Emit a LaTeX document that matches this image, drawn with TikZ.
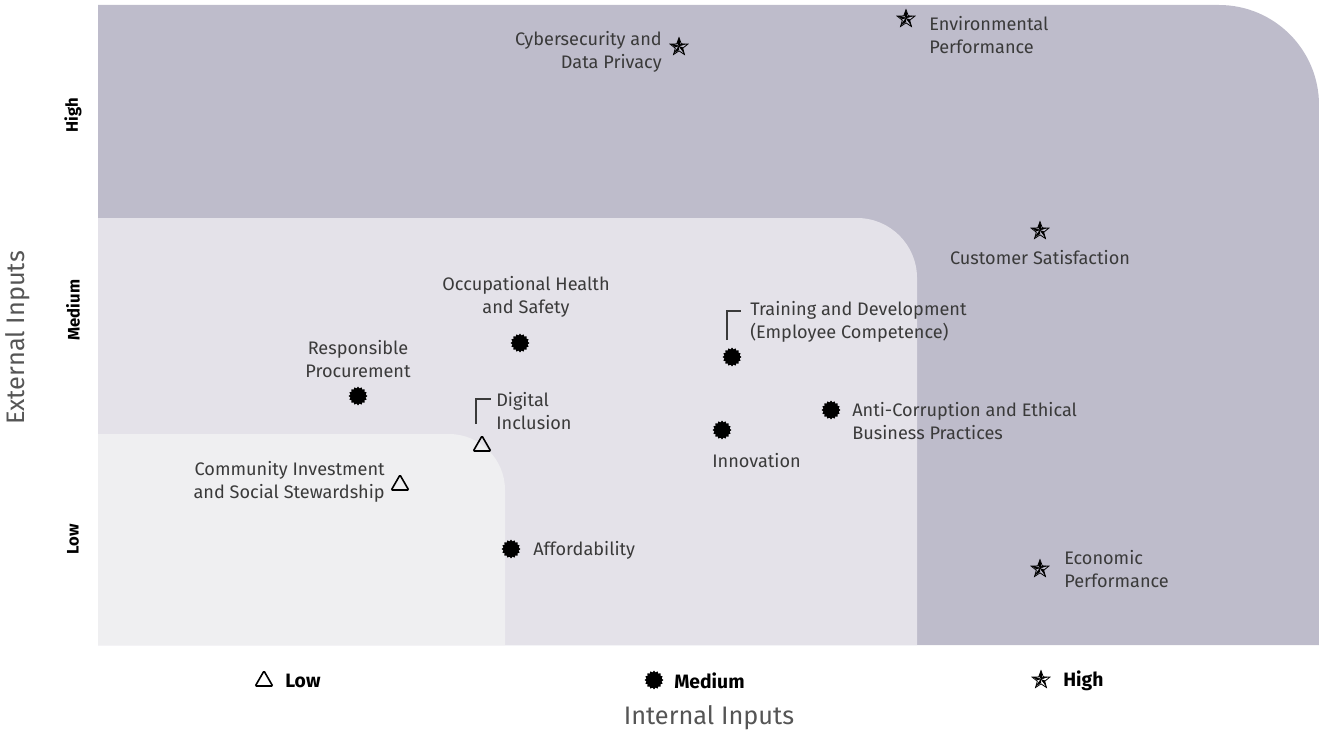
\documentclass[tikz,border=0pt]{standalone}
\usepackage{fontspec}
\setmainfont{Fira Sans}
\usetikzlibrary{shapes.geometric}
\definecolor{hiband}{HTML}{BEBCCB}
\definecolor{midband}{HTML}{E4E2E9}
\definecolor{lowband}{HTML}{EFEFF1}
\definecolor{labtext}{HTML}{3A3A3A}
\definecolor{axtext}{HTML}{555555}
\tikzset{
  hi/.style={star, star points=5, star point ratio=2.4, draw, line width=0.6pt,
    minimum size=14pt, inner sep=0pt,
    path picture={
      \foreach \a in {90,162,234,306,378}{
        \fill (path picture bounding box.center) -- +(\a:7pt) -- +(\a+36:2.9pt) -- cycle;
        \draw[line width=0.4pt] (path picture bounding box.center) -- +(\a:7pt);
      }}},
  mid/.style={star, star points=16, star point ratio=1.2, fill=black,
    minimum size=14pt, inner sep=0pt},
  lo/.style={regular polygon, regular polygon sides=3, draw, line width=1.2pt,
    minimum size=15pt, inner sep=0pt, rounded corners=0.8pt},
  lbl/.style={text=labtext, font=\fontsize{13.6}{17.25}\selectfont, inner sep=0pt},
  lvl/.style={font=\bfseries\fontsize{12.5}{14}\selectfont, inner sep=0pt},
  key/.style={font=\bfseries\fontsize{14.5}{17}\selectfont, inner sep=0pt},
  axis/.style={text=axtext, font=\fontsize{19}{23}\selectfont, inner sep=0pt}
}
\begin{document}
\begin{tikzpicture}[x=0.75pt, y=-0.75pt]
  \useasboundingbox (0,0) rectangle (1319,738);
  % bands
  \fill[hiband] (98,645) -- (98,5) [rounded corners=75pt] -- (1319,5) [sharp corners] -- (1319,645) -- cycle;
  \fill[midband] (98,645) -- (98,218) [rounded corners=45pt] -- (917,218) [sharp corners] -- (917,645) -- cycle;
  \fill[lowband] (98,645) -- (98,434) [rounded corners=42pt] -- (505,434) [sharp corners] -- (505,645) -- cycle;

  % high
  \node[hi] (cyb) at (679,47) {};
  \node[lbl, anchor=east, align=right] (cybl) at (662,51.5) {Cybersecurity and\\Data Privacy};
  \node[hi] (env) at (906,19) {};
  \node[lbl, anchor=west, align=left] (envl) at (929,35.5) {Environmental\\Performance};
  \node[hi] (cus) at (1040,231) {};
  \node[lbl] (cusl) at (1040,258) {Customer Satisfaction};
  \node[hi] (eco) at (1040,569) {};
  \node[lbl, anchor=west, align=left] (ecol) at (1064,569.5) {Economic\\Performance};

  % medium
  \node[mid] (ohs) at (520,343) {};
  \node[lbl, align=center] (ohsl) at (526,297) {Occupational Health\\and Safety};
  \node[mid] (rpr) at (358,396) {};
  \node[lbl, align=center] (rprl) at (358,359.5) {Responsible\\Procurement};
  \node[mid] (aff) at (511,549) {};
  \node[lbl, anchor=west] (affl) at (533,550) {Affordability};
  \node[mid] (trn) at (732,357) {};
  \node[lbl, anchor=west, align=left] (trnl) at (750,322) {Training and Development\\(Employee Competence)};
  \node[mid] (inn) at (722,430) {};
  \node[lbl, anchor=west] (innl) at (712,461) {Innovation};
  \node[mid] (anc) at (831,410) {};
  \node[lbl, anchor=west, align=left] (ancl) at (852,421) {Anti-Corruption and Ethical\\Business Practices};

  % low
  \node[lo] (dig) at (482,446) {};
  \node[lbl, anchor=west, align=left] (digl) at (496,411) {Digital\\Inclusion};
  \node[lo] (com) at (400,485) {};
  \node[lbl, anchor=east, align=right] (coml) at (385,481.5) {Community Investment\\and Social Stewardship};

  % leaders
  \coordinate (digA) at (476,424);
  \coordinate (digB) at (491,399);
  \draw[labtext, line width=0.8pt] (digA) |- (digB);
  \coordinate (trnA) at (727,340);
  \coordinate (trnB) at (741,311);
  \draw[labtext, line width=0.8pt] (trnA) |- (trnB);

  % axes
  \node[lvl, rotate=90] (yhi) at (73,115) {High};
  \node[lvl, rotate=90] (ymid) at (73,310) {Medium};
  \node[lvl, rotate=90] (ylo) at (73,539) {Low};
  \node[axis, rotate=90] (ytit) at (18,338) {External Inputs};

  \node[lo] (klo) at (264,681) {};
  \node[key, anchor=west] (klol) at (285,681) {Low};
  \node[mid] (kmid) at (654,680) {};
  \node[key, anchor=west] (kmidl) at (674,681) {Medium};
  \node[hi] (khi) at (1041,680) {};
  \node[key, anchor=west] (khil) at (1063,681) {High};
  \node[axis] (xtit) at (709,718) {Internal Inputs};
\end{tikzpicture}
\end{document}
